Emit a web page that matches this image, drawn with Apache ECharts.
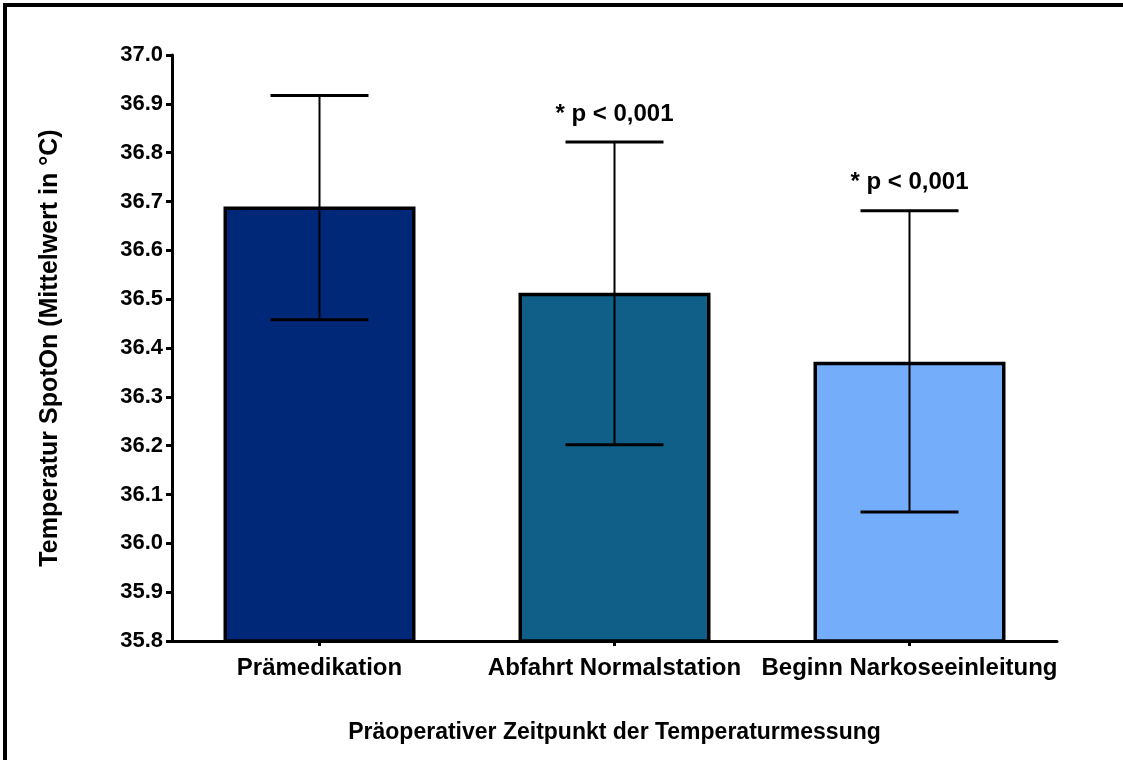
<!DOCTYPE html>
<html>
<head>
<meta charset="utf-8">
<script src="https://cdn.jsdelivr.net/npm/echarts@6/dist/echarts.min.js"></script>
<style>html,body{margin:0;padding:0;background:#fff;}#c{width:1123px;height:760px;}</style>
</head>
<body>
<div id="c"></div>
<script>
const categories = ['Prämedikation', 'Abfahrt Normalstation', 'Beginn Narkoseeinleitung'];
const means = [36.69, 36.513, 36.372];
const errLow = [36.458, 36.202, 36.064];
const errHigh = [36.917, 36.822, 36.681];
const annotations = ['', '* p < 0,001', '* p < 0,001'];
const barColors = ['#002878', '#0f5f88', '#74aefa'];
const yTicks = { min: 35.8, max: 37.0, interval: 0.1 };

const FONT = '"Liberation Sans", Arial, sans-serif';
const chart = echarts.init(document.getElementById('c'), null, { renderer: 'canvas' });

const option = {
  backgroundColor: '#fff',
  animation: false,
  graphic: [{
    type: 'rect',
    shape: { x: 5, y: 5, width: 1200, height: 900 },
    style: { fill: 'none', stroke: '#000', lineWidth: 4 },
    silent: true
  }],
  grid: { left: 172, right: 66, top: 55, bottom: 119, containLabel: false },
  xAxis: {
    type: 'category',
    data: categories,
    name: 'Präoperativer Zeitpunkt der Temperaturmessung',
    nameLocation: 'middle',
    nameGap: 80,
    nameTextStyle: { fontFamily: FONT, fontWeight: 'bold', fontSize: 23, color: '#000' },
    axisLine: { lineStyle: { color: '#000', width: 3 } },
    axisTick: { show: true, alignWithLabel: true, length: 5, lineStyle: { color: '#000', width: 3 } },
    axisLabel: { fontFamily: FONT, fontWeight: 'bold', fontSize: 24, color: '#000', margin: 15, interval: 0 },
    splitLine: { show: false }
  },
  yAxis: {
    type: 'value',
    min: yTicks.min,
    max: yTicks.max,
    interval: yTicks.interval,
    name: 'Temperatur SpotOn (Mittelwert in °C)',
    nameLocation: 'middle',
    nameGap: 109,
    nameRotate: 90,
    nameTextStyle: { fontFamily: FONT, fontWeight: 'bold', fontSize: 25, color: '#000' },
    axisLine: { show: true, lineStyle: { color: '#000', width: 3 } },
    axisTick: { show: true, length: 6, lineStyle: { color: '#000', width: 3 } },
    axisLabel: { fontFamily: FONT, fontWeight: 'bold', fontSize: 22, color: '#000', margin: 9,
      formatter: v => v.toFixed(1) },
    splitLine: { show: false }
  },
  series: [
    {
      type: 'bar',
      barWidth: 192,
      data: means.map((v, i) => ({ value: v, itemStyle: { color: barColors[i] } })),
      itemStyle: { borderColor: '#000', borderWidth: 3.5 },
      z: 2
    },
    {
      type: 'custom',
      z: 5,
      data: categories.map((c, i) => [i, errLow[i], errHigh[i], means[i]]),
      renderItem: function (params, api) {
        const i = api.value(0);
        const lo = api.coord([i, api.value(1)]);
        const hi = api.coord([i, api.value(2)]);
        const x = lo[0];
        const half = 49;
        const children = [
          { type: 'line', shape: { x1: x, y1: hi[1], x2: x, y2: lo[1] }, style: { stroke: '#000', lineWidth: 2 } },
          { type: 'line', shape: { x1: x - half, y1: hi[1], x2: x + half, y2: hi[1] }, style: { stroke: '#000', lineWidth: 3 } },
          { type: 'line', shape: { x1: x - half, y1: lo[1], x2: x + half, y2: lo[1] }, style: { stroke: '#000', lineWidth: 3 } }
        ];
        const txt = annotations[params.dataIndex];
        if (txt) {
          children.push({
            type: 'text',
            style: {
              text: txt, x: x, y: hi[1] - 16,
              align: 'center', verticalAlign: 'bottom',
              font: 'bold 24px ' + FONT, fill: '#000'
            }
          });
        }
        return { type: 'group', children: children };
      }
    }
  ]
};
chart.setOption(option);
</script>
</body>
</html>
